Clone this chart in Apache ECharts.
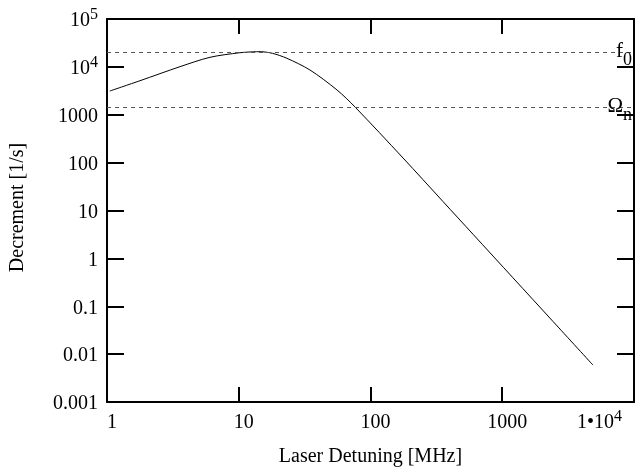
<!DOCTYPE html>
<html>
<head>
<meta charset="utf-8">
<script src="https://cdn.jsdelivr.net/npm/echarts@6/dist/echarts.min.js"></script>
<style>html,body{margin:0;padding:0;background:#fff}#c{width:635px;height:469px}</style>
</head>
<body>
<div id="c"></div>
<script>
// Curve
var detuning = [1.05, 1.78, 3.58, 6.05, 10.2, 12.8, 14.5, 18, 23.2, 34.7, 55.7, 76.3, 176.6, 355, 600, 1207, 2427, 4885];
var decrement = [3130, 5140, 10090, 15850, 19770, 20600, 20740, 19200, 15100, 8610, 3290, 1452, 125, 15.4, 3.19, 0.392, 0.0482, 0.0059];
// Reference levels
var levelNames = ['f0', 'Omega_n'];
var levelValues = [20400, 1450];
var levelLabels = ['{m|f}{n|0}', '{m|Ω}{n|n}'];
// Tick labels
var xTickLabels = ['{b|1}', '{b|10}', '{b|100}', '{b|1000}', '{b|1•10}{s|4}'];
var yTickLabels = ['{b|0.001}', '{b|0.01}', '{b|0.1}', '{b|1}', '{b|10}', '{b|100}', '{b|1000}', '{b|10}{s|4}', '{b|10}{s|5}'];

var FONT = 'Liberation Serif';
function makeRich(lead) {
  return {
    t: {fontSize: 1, lineHeight: 24, width: lead},
    e: {fontSize: 1, lineHeight: 24, width: 12},
    b: {fontFamily: FONT, fontSize: 20, color: '#000', verticalAlign: 'bottom', lineHeight: 20},
    s: {fontFamily: FONT, fontSize: 16, color: '#000', verticalAlign: 'top', lineHeight: 10}
  };
}
function xFmt(v) {
  var i = Math.round(Math.log10(v));
  return '{t| }' + xTickLabels[i] + (i === xTickLabels.length - 1 ? '{e| }' : '');
}
function yFmt(v) { var i = Math.round(Math.log10(v)) + 3; return '{t| }' + yTickLabels[i]; }

var axisLine = {show: true, lineStyle: {color: '#000', width: 2}};
var chart = echarts.init(document.getElementById('c'), null, {renderer: 'canvas'});
var labelRich = {
  t: {fontSize: 1, lineHeight: 28, width: 0},
  m: {fontFamily: FONT, fontSize: 21, color: '#000', verticalAlign: 'top', lineHeight: 24},
  n: {fontFamily: FONT, fontSize: 18, color: '#000', verticalAlign: 'bottom', lineHeight: 8}
};
chart.setOption({
  animation: false,
  backgroundColor: '#fff',
  grid: {left: 107, right: 1, top: 19, bottom: 67, containLabel: false, outerBoundsMode: 'none'},
  xAxis: [{
    type: 'log', logBase: 10, min: 1, max: 10000, interval: 1, position: 'bottom',
    axisLine: axisLine,
    axisTick: {show: true, inside: true, length: 15, lineStyle: {color: '#000', width: 2}},
    minorTick: {show: false}, splitLine: {show: false},
    axisLabel: {formatter: xFmt, color: '#000', margin: 7, rich: makeRich(10), alignMaxLabel: 'right'},
    name: 'Laser Detuning [MHz]', nameLocation: 'middle', nameGap: 40, nameMoveOverlap: false,
    nameTextStyle: {fontFamily: FONT, fontSize: 20, color: '#000', padding: [5, 0, 0, 0]}
  }, {
    type: 'log', logBase: 10, min: 1, max: 10000, interval: 1, position: 'top',
    axisLine: axisLine,
    axisTick: {show: true, inside: true, length: 15, lineStyle: {color: '#000', width: 2}},
    axisLabel: {show: false}, splitLine: {show: false}
  }],
  yAxis: [{
    type: 'log', logBase: 10, min: 0.001, max: 100000, interval: 1, position: 'left',
    axisLine: axisLine,
    axisTick: {show: true, inside: true, length: 17, lineStyle: {color: '#000', width: 2}},
    minorTick: {show: false}, splitLine: {show: false},
    axisLabel: {formatter: yFmt, color: '#000', margin: 9, rich: makeRich(0)},
    name: 'Decrement [1/s]', nameLocation: 'middle', nameGap: 79, nameRotate: 90,
    nameTextStyle: {fontFamily: FONT, fontSize: 20, color: '#000', padding: [0, 0, 0, 6]}
  }, {
    type: 'log', logBase: 10, min: 0.001, max: 100000, interval: 1, position: 'right',
    axisLine: axisLine,
    axisTick: {show: true, inside: true, length: 17, lineStyle: {color: '#000', width: 2}},
    axisLabel: {show: false}, splitLine: {show: false}
  }],
  series: [{
    type: 'line',
    xAxisIndex: 0, yAxisIndex: 0,
    data: detuning.map(function (x, i) { return [x, decrement[i]]; }),
    showSymbol: false, smooth: 0.3,
    lineStyle: {color: '#000', width: 1},
    markLine: {
      silent: true, symbol: 'none',
      lineStyle: {color: '#555', width: 1, type: [4, 4]},
      data: levelValues.map(function (v, i) {
        return {name: levelNames[i], yAxis: v,
          label: {show: true, position: 'insideEnd', distance: 2, padding: [6, 0, 0, 0],
            formatter: '{t| }' + levelLabels[i], rich: labelRich}};
      })
    }
  }]
});
</script>
</body>
</html>
